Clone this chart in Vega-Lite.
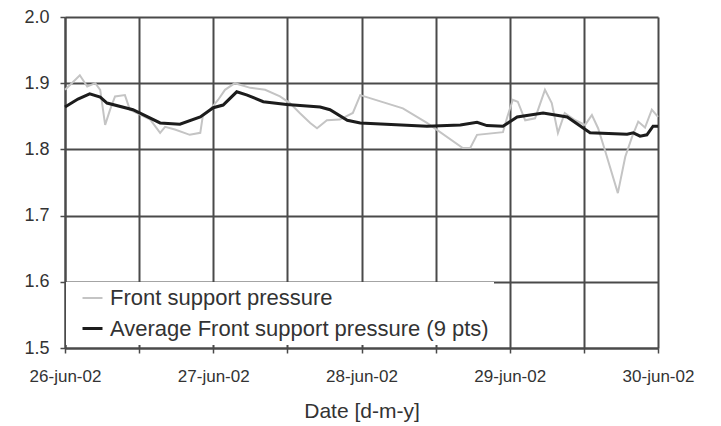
{
  "$schema": "https://vega.github.io/schema/vega-lite/v6.json",
  "width": 593,
  "height": 331,
  "autosize": "none",
  "padding": {"left": 65, "top": 17, "right": 63, "bottom": 78},
  "background": "white",
  "config": {
    "font": "Liberation Sans",
    "view": {"stroke": null},
    "axis": {
      "domainColor": "#4a4a4a",
      "domainWidth": 2,
      "gridColor": "#4a4a4a",
      "gridWidth": 2,
      "gridOpacity": 1,
      "tickColor": "#4a4a4a",
      "tickWidth": 1.5,
      "tickSize": 5,
      "labelColor": "#333333",
      "titleColor": "#333333",
      "labelFont": "Liberation Sans",
      "titleFont": "Liberation Sans",
      "titleFontWeight": "normal"
    }
  },
  "data": {
    "values": [
      {"time": "2002-06-26T00:00", "pressure": 1.890, "series": "Front support pressure"},
      {"time": "2002-06-26T01:06", "pressure": 1.900, "series": "Front support pressure"},
      {"time": "2002-06-26T02:24", "pressure": 1.912, "series": "Front support pressure"},
      {"time": "2002-06-26T03:36", "pressure": 1.895, "series": "Front support pressure"},
      {"time": "2002-06-26T04:54", "pressure": 1.900, "series": "Front support pressure"},
      {"time": "2002-06-26T05:42", "pressure": 1.890, "series": "Front support pressure"},
      {"time": "2002-06-26T06:30", "pressure": 1.837, "series": "Front support pressure"},
      {"time": "2002-06-26T07:18", "pressure": 1.860, "series": "Front support pressure"},
      {"time": "2002-06-26T08:06", "pressure": 1.880, "series": "Front support pressure"},
      {"time": "2002-06-26T09:42", "pressure": 1.882, "series": "Front support pressure"},
      {"time": "2002-06-26T10:30", "pressure": 1.860, "series": "Front support pressure"},
      {"time": "2002-06-26T12:06", "pressure": 1.853, "series": "Front support pressure"},
      {"time": "2002-06-26T13:48", "pressure": 1.845, "series": "Front support pressure"},
      {"time": "2002-06-26T15:24", "pressure": 1.825, "series": "Front support pressure"},
      {"time": "2002-06-26T16:12", "pressure": 1.834, "series": "Front support pressure"},
      {"time": "2002-06-26T17:48", "pressure": 1.830, "series": "Front support pressure"},
      {"time": "2002-06-26T20:12", "pressure": 1.822, "series": "Front support pressure"},
      {"time": "2002-06-26T21:54", "pressure": 1.825, "series": "Front support pressure"},
      {"time": "2002-06-26T22:18", "pressure": 1.850, "series": "Front support pressure"},
      {"time": "2002-06-26T23:30", "pressure": 1.860, "series": "Front support pressure"},
      {"time": "2002-06-27T00:48", "pressure": 1.875, "series": "Front support pressure"},
      {"time": "2002-06-27T01:54", "pressure": 1.890, "series": "Front support pressure"},
      {"time": "2002-06-27T03:30", "pressure": 1.900, "series": "Front support pressure"},
      {"time": "2002-06-27T06:00", "pressure": 1.893, "series": "Front support pressure"},
      {"time": "2002-06-27T08:24", "pressure": 1.890, "series": "Front support pressure"},
      {"time": "2002-06-27T10:48", "pressure": 1.880, "series": "Front support pressure"},
      {"time": "2002-06-27T12:24", "pressure": 1.870, "series": "Front support pressure"},
      {"time": "2002-06-27T14:00", "pressure": 1.855, "series": "Front support pressure"},
      {"time": "2002-06-27T15:42", "pressure": 1.840, "series": "Front support pressure"},
      {"time": "2002-06-27T16:48", "pressure": 1.832, "series": "Front support pressure"},
      {"time": "2002-06-27T18:24", "pressure": 1.844, "series": "Front support pressure"},
      {"time": "2002-06-27T20:30", "pressure": 1.845, "series": "Front support pressure"},
      {"time": "2002-06-27T22:36", "pressure": 1.855, "series": "Front support pressure"},
      {"time": "2002-06-27T23:48", "pressure": 1.882, "series": "Front support pressure"},
      {"time": "2002-06-28T06:42", "pressure": 1.862, "series": "Front support pressure"},
      {"time": "2002-06-28T10:36", "pressure": 1.840, "series": "Front support pressure"},
      {"time": "2002-06-28T16:24", "pressure": 1.802, "series": "Front support pressure"},
      {"time": "2002-06-28T17:36", "pressure": 1.802, "series": "Front support pressure"},
      {"time": "2002-06-28T18:42", "pressure": 1.822, "series": "Front support pressure"},
      {"time": "2002-06-28T22:54", "pressure": 1.826, "series": "Front support pressure"},
      {"time": "2002-06-28T23:36", "pressure": 1.849, "series": "Front support pressure"},
      {"time": "2002-06-29T00:30", "pressure": 1.875, "series": "Front support pressure"},
      {"time": "2002-06-29T01:18", "pressure": 1.872, "series": "Front support pressure"},
      {"time": "2002-06-29T02:30", "pressure": 1.844, "series": "Front support pressure"},
      {"time": "2002-06-29T04:06", "pressure": 1.847, "series": "Front support pressure"},
      {"time": "2002-06-29T05:42", "pressure": 1.890, "series": "Front support pressure"},
      {"time": "2002-06-29T06:48", "pressure": 1.870, "series": "Front support pressure"},
      {"time": "2002-06-29T07:48", "pressure": 1.825, "series": "Front support pressure"},
      {"time": "2002-06-29T08:54", "pressure": 1.855, "series": "Front support pressure"},
      {"time": "2002-06-29T10:36", "pressure": 1.844, "series": "Front support pressure"},
      {"time": "2002-06-29T12:12", "pressure": 1.837, "series": "Front support pressure"},
      {"time": "2002-06-29T13:18", "pressure": 1.852, "series": "Front support pressure"},
      {"time": "2002-06-29T14:18", "pressure": 1.832, "series": "Front support pressure"},
      {"time": "2002-06-29T15:24", "pressure": 1.799, "series": "Front support pressure"},
      {"time": "2002-06-29T17:30", "pressure": 1.734, "series": "Front support pressure"},
      {"time": "2002-06-29T18:42", "pressure": 1.789, "series": "Front support pressure"},
      {"time": "2002-06-29T19:48", "pressure": 1.819, "series": "Front support pressure"},
      {"time": "2002-06-29T20:48", "pressure": 1.842, "series": "Front support pressure"},
      {"time": "2002-06-29T21:54", "pressure": 1.833, "series": "Front support pressure"},
      {"time": "2002-06-29T23:00", "pressure": 1.860, "series": "Front support pressure"},
      {"time": "2002-06-30T00:00", "pressure": 1.849, "series": "Front support pressure"},

      {"time": "2002-06-26T00:00", "pressure": 1.864, "series": "Average Front support pressure (9 pts)"},
      {"time": "2002-06-26T02:06", "pressure": 1.876, "series": "Average Front support pressure (9 pts)"},
      {"time": "2002-06-26T04:00", "pressure": 1.884, "series": "Average Front support pressure (9 pts)"},
      {"time": "2002-06-26T05:42", "pressure": 1.879, "series": "Average Front support pressure (9 pts)"},
      {"time": "2002-06-26T06:48", "pressure": 1.870, "series": "Average Front support pressure (9 pts)"},
      {"time": "2002-06-26T11:00", "pressure": 1.860, "series": "Average Front support pressure (9 pts)"},
      {"time": "2002-06-26T15:24", "pressure": 1.840, "series": "Average Front support pressure (9 pts)"},
      {"time": "2002-06-26T18:36", "pressure": 1.838, "series": "Average Front support pressure (9 pts)"},
      {"time": "2002-06-26T21:54", "pressure": 1.849, "series": "Average Front support pressure (9 pts)"},
      {"time": "2002-06-27T00:00", "pressure": 1.863, "series": "Average Front support pressure (9 pts)"},
      {"time": "2002-06-27T01:36", "pressure": 1.867, "series": "Average Front support pressure (9 pts)"},
      {"time": "2002-06-27T03:48", "pressure": 1.887, "series": "Average Front support pressure (9 pts)"},
      {"time": "2002-06-27T05:30", "pressure": 1.882, "series": "Average Front support pressure (9 pts)"},
      {"time": "2002-06-27T08:06", "pressure": 1.872, "series": "Average Front support pressure (9 pts)"},
      {"time": "2002-06-27T11:54", "pressure": 1.868, "series": "Average Front support pressure (9 pts)"},
      {"time": "2002-06-27T17:18", "pressure": 1.864, "series": "Average Front support pressure (9 pts)"},
      {"time": "2002-06-27T18:54", "pressure": 1.860, "series": "Average Front support pressure (9 pts)"},
      {"time": "2002-06-27T21:42", "pressure": 1.844, "series": "Average Front support pressure (9 pts)"},
      {"time": "2002-06-27T23:48", "pressure": 1.840, "series": "Average Front support pressure (9 pts)"},
      {"time": "2002-06-28T10:36", "pressure": 1.835, "series": "Average Front support pressure (9 pts)"},
      {"time": "2002-06-28T16:00", "pressure": 1.837, "series": "Average Front support pressure (9 pts)"},
      {"time": "2002-06-28T18:42", "pressure": 1.841, "series": "Average Front support pressure (9 pts)"},
      {"time": "2002-06-28T20:18", "pressure": 1.836, "series": "Average Front support pressure (9 pts)"},
      {"time": "2002-06-28T22:54", "pressure": 1.835, "series": "Average Front support pressure (9 pts)"},
      {"time": "2002-06-29T01:12", "pressure": 1.849, "series": "Average Front support pressure (9 pts)"},
      {"time": "2002-06-29T05:24", "pressure": 1.855, "series": "Average Front support pressure (9 pts)"},
      {"time": "2002-06-29T09:18", "pressure": 1.849, "series": "Average Front support pressure (9 pts)"},
      {"time": "2002-06-29T13:00", "pressure": 1.825, "series": "Average Front support pressure (9 pts)"},
      {"time": "2002-06-29T19:00", "pressure": 1.823, "series": "Average Front support pressure (9 pts)"},
      {"time": "2002-06-29T20:00", "pressure": 1.825, "series": "Average Front support pressure (9 pts)"},
      {"time": "2002-06-29T21:06", "pressure": 1.820, "series": "Average Front support pressure (9 pts)"},
      {"time": "2002-06-29T22:12", "pressure": 1.822, "series": "Average Front support pressure (9 pts)"},
      {"time": "2002-06-29T23:12", "pressure": 1.835, "series": "Average Front support pressure (9 pts)"},
      {"time": "2002-06-30T00:00", "pressure": 1.835, "series": "Average Front support pressure (9 pts)"}
    ]
  },
  "mark": {"type": "line", "interpolate": "linear"},
  "encoding": {
    "x": {
      "field": "time",
      "type": "temporal",
      "scale": {"domain": [{"year": 2002, "month": "jun", "date": 26}, {"year": 2002, "month": "jun", "date": 30}], "nice": false},
      "axis": {
        "title": "Date [d-m-y]",
        "titleFontSize": 21,
        "titlePadding": 16,
        "labelFontSize": 17,
        "labelPadding": 15,
        "labelOverlap": false,
        "labelFlush": false,
        "grid": true,
        "values": [
          {"year": 2002, "month": "jun", "date": 26, "hours": 0},
          {"year": 2002, "month": "jun", "date": 26, "hours": 12},
          {"year": 2002, "month": "jun", "date": 27, "hours": 0},
          {"year": 2002, "month": "jun", "date": 27, "hours": 12},
          {"year": 2002, "month": "jun", "date": 28, "hours": 0},
          {"year": 2002, "month": "jun", "date": 28, "hours": 12},
          {"year": 2002, "month": "jun", "date": 29, "hours": 0},
          {"year": 2002, "month": "jun", "date": 29, "hours": 12},
          {"year": 2002, "month": "jun", "date": 30, "hours": 0}
        ],
        "labelExpr": "hours(datum.value) == 0 ? lower(timeFormat(datum.value, '%d-%b-%y')) : ''"
      }
    },
    "y": {
      "field": "pressure",
      "type": "quantitative",
      "scale": {"domain": [1.5, 2.0], "nice": false, "zero": false},
      "axis": {
        "title": null,
        "values": [1.5, 1.6, 1.7, 1.8, 1.9, 2.0],
        "format": ".1f",
        "labelFontSize": 18,
        "labelPadding": 11,
        "grid": true
      }
    },
    "color": {
      "field": "series",
      "type": "nominal",
      "scale": {
        "domain": ["Front support pressure", "Average Front support pressure (9 pts)"],
        "range": ["#c4c4c4", "#1c1c1c"]
      },
      "legend": {
        "title": null,
        "orient": "none",
        "legendX": 1,
        "legendY": 265,
        "fillColor": "white",
        "padding": 5,
        "rowPadding": 8,
        "symbolType": "stroke",
        "symbolSize": 400,
        "symbolOffset": 10,
        "labelOffset": 6,
        "labelFontSize": 22,
        "labelFont": "Liberation Sans",
        "labelColor": "#333333",
        "labelLimit": 0
      }
    },
    "strokeWidth": {
      "field": "series",
      "type": "nominal",
      "scale": {
        "domain": ["Front support pressure", "Average Front support pressure (9 pts)"],
        "range": [2, 3]
      },
      "legend": null
    }
  }
}
